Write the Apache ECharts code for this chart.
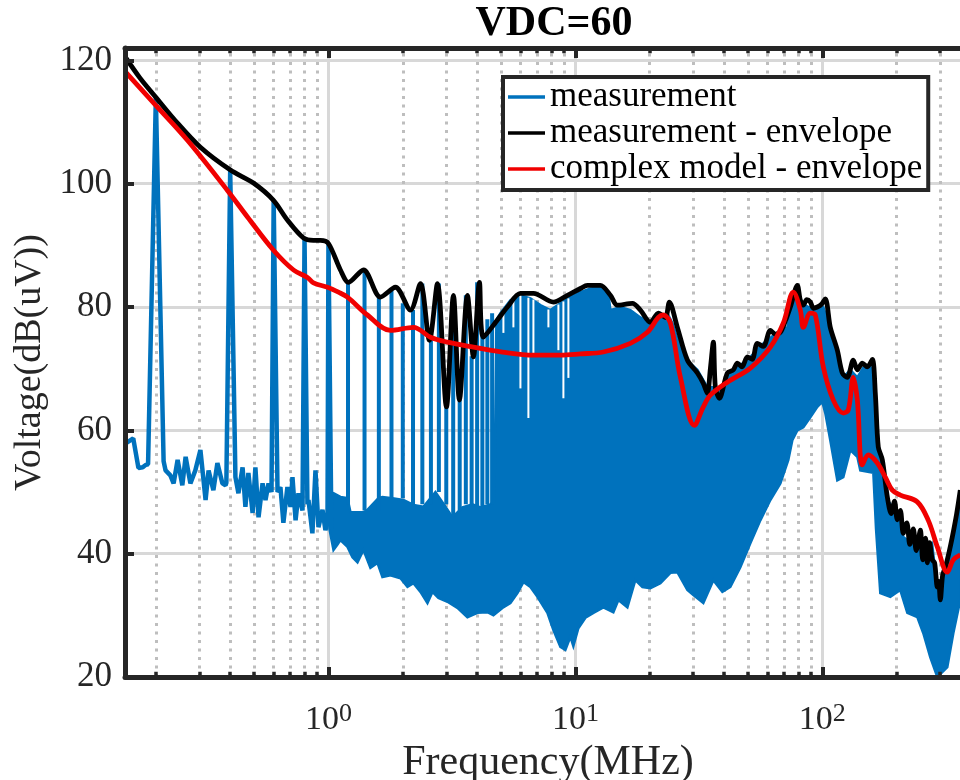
<!DOCTYPE html>
<html><head><meta charset="utf-8">
<script src="https://cdn.jsdelivr.net/npm/echarts@6/dist/echarts.min.js"></script>
<style>html,body{margin:0;padding:0;background:#fff}#chart{width:960px;height:780px}</style>
</head><body><div id="chart"></div>
<script>
// ---- data (frequency in MHz, level in dB(uV)) ----
const measLow = [[0.151,57.9],[0.162,58.7],[0.170,53.9],[0.177,54.0],[0.182,54.4],[0.186,54.5],[0.200,114.0],[0.215,55.0],[0.219,53.5],[0.229,52.7],[0.236,51.4],[0.245,55.2],[0.256,51.1],[0.264,55.7],[0.276,51.4],[0.289,53.5],[0.303,56.8],[0.318,48.7],[0.327,53.5],[0.342,50.3],[0.355,54.7],[0.372,51.4],[0.383,51.1],[0.386,51.5],[0.400,102.2],[0.420,52.4],[0.432,49.8],[0.449,54.0],[0.461,47.6],[0.474,53.1],[0.493,46.6],[0.506,54.0],[0.521,45.9],[0.541,51.4],[0.556,48.7],[0.572,51.4],[0.588,50.0],[0.600,97.3],[0.622,50.0],[0.639,50.8],[0.657,45.0],[0.682,50.8],[0.702,47.6],[0.715,52.4],[0.736,45.4],[0.756,49.8],[0.785,47.0],[0.800,91.2],[0.822,48.0],[0.830,48.7],[0.861,43.3],[0.886,53.5],[0.911,44.3],[0.946,47.1],[0.972,43.8],[0.991,45.0],[1.000,90.3],[1.028,44.0]];
const spikeFreq  = [1.2,1.4,1.6,1.8,2.0,2.2,2.4,2.6,2.8,3.0,3.2,3.4,3.6,3.8,4.0,4.2,4.4,4.6];
const spikePeak  = [84.0,86.0,81.6,82.7,80.6,79.5,83.8,75.0,83.8,64.0,81.9,65.0,81.9,72.0,84.0,75.5,78.0,79.0];
const spikeFloor = [48,47,47,49,49,48,48,48,50,48,46,47,48,48,47.5,47.5,48,48];
const dipFreq = [5.111,5.610,5.990,6.452,6.761,7.776,8.535,8.942,9.369];
const dipTop  = [79.5,81.3,81.9,81.5,81.2,79.6,80.4,80.9,81.4];
const dipLow  = [75.8,76.7,66.8,62.0,72.5,76.7,73.0,65.2,68.5];
const bandTop = [[1.009,50.0],[1.048,49.8],[1.118,49.2],[1.194,49.0],[1.228,46.7],[1.386,46.7],[1.438,47.1],[1.594,49.0],[1.654,49.2],[1.816,49.0],[2.012,48.7],[2.209,47.9],[2.425,47.6],[2.712,50.0],[2.977,47.6],[3.177,45.9],[3.487,47.5],[3.828,48.0],[4.125,47.5],[4.528,48.0],[4.700,48.5],[4.788,77.9],[4.970,79.0],[5.455,81.1],[5.990,81.9],[6.574,81.4],[7.216,80.3],[7.921,79.5],[8.695,80.6],[9.546,81.6],[10.48,82.4],[11.50,83.0],[12.98,83.2],[13.60,82.2],[13.86,79.5],[15.21,80.0],[16.70,79.5],[18.33,78.3],[20.12,77.5],[22.09,78.3],[23.58,79.0],[24.70,77.4],[27.37,71.9],[31.19,69.8],[34.22,67.0],[35.86,67.0],[38.64,66.5],[43.62,69.8],[49.71,71.4],[57.69,74.1],[65.74,75.9],[72.16,76.7],[76.31,81.1],[79.21,82.7],[82.99,80.6],[87.76,80.0],[95.45,79.5],[100.9,80.0],[107.7,76.7],[115.0,71.9],[121.6,68.6],[129.8,69.8],[138.6,68.6],[146.6,70.2],[156.5,70.6],[160.9,67.0],[167.0,60.5],[171.7,54.0],[183.3,48.7],[201.2,46.6],[212.8,42.7],[233.6,41.4],[249.4,43.0],[266.1,39.4],[278.8,41.4],[292.2,34.1],[300.5,32.5],[314.8,37.3],[336.0,42.2],[362.1,49.8]];
const bandBottom = [[1.009,44.0],[1.048,40.6],[1.088,41.5],[1.118,42.2],[1.194,41.1],[1.251,39.4],[1.311,38.6],[1.386,40.6],[1.479,37.7],[1.579,38.5],[1.654,36.2],[1.782,36.5],[1.957,36.0],[2.089,34.6],[2.209,35.2],[2.358,33.8],[2.517,32.0],[2.637,33.8],[2.788,32.8],[3.033,32.2],[3.328,31.2],[3.654,29.7],[4.011,30.4],[4.403,30.5],[4.656,30.0],[5.063,31.2],[5.455,32.0],[5.825,33.6],[6.160,35.4],[6.574,34.6],[7.018,33.0],[7.703,30.4],[8.145,27.6],[8.695,24.9],[9.110,24.4],[9.546,26.5],[9.81,25.0],[10.28,27.9],[10.98,29.6],[11.83,30.4],[12.98,31.3],[14.25,30.5],[14.93,32.5],[16.24,31.3],[17.49,35.7],[18.68,34.6],[20.12,34.4],[22.09,35.2],[24.25,36.9],[25.88,37.0],[28.41,34.1],[30.04,33.3],[32.97,32.0],[36.20,35.7],[39.37,33.8],[42.41,34.6],[46.56,37.8],[51.11,41.7],[56.10,45.4],[61.59,48.7],[67.61,51.4],[72.83,55.2],[75.60,58.4],[79.21,60.0],[83.77,60.5],[89.42,62.1],[95.45,63.8],[100.0,64.6],[102.8,62.8],[107.7,58.4],[115.0,51.9],[121.6,52.4],[129.8,56.8],[138.6,55.7],[142.5,53.5],[160.9,53.1],[165.0,44.0],[171.7,33.6],[188.5,33.0],[206.9,34.1],[220.9,30.4],[242.4,29.7],[256.4,27.1],[273.7,23.2],[292.2,20.0],[320.7,21.6],[339.2,27.1],[362.1,32.5]];
const measEnvelope = [[0.15,120.6],[0.172,117.2],[0.200,114.0],[0.240,110.2],[0.303,105.9],[0.401,102.2],[0.497,100.1],[0.599,97.3],[0.682,94.1],[0.792,91.2],[0.869,90.8],[0.928,90.8],[1.000,90.3],[1.118,86.0],[1.205,84.0],[1.386,86.0],[1.624,81.6],[1.867,83.2],[2.148,79.5],[2.358,83.8],[2.564,74.6],[2.763,83.8],[3.005,63.8],[3.207,81.9],[3.391,64.9],[3.654,81.9],[3.864,71.9],[4.087,84.0],[4.242,75.1],[4.832,77.9],[5.305,80.0],[5.990,82.2],[6.761,82.2],[8.145,80.8],[9.281,81.9],[10.48,83.0],[11.18,83.5],[12.62,83.5],[13.86,81.9],[14.79,80.3],[17.01,80.6],[18.33,79.5],[20.12,77.5],[21.68,79.0],[23.14,78.3],[24.02,80.8],[25.88,76.7],[28.41,71.4],[31.19,69.3],[32.97,67.6],[34.22,66.0],[35.20,70.0],[36.20,74.3],[36.88,67.0],[38.28,65.2],[41.25,69.3],[43.6,69.8],[45.27,70.9],[47.3,70.3],[49.71,71.9],[52.0,71.5],[54.55,74.1],[57.7,73.6],[61.59,76.2],[64.5,75.6],[67.61,75.9],[70.5,77.5],[74.20,80.0],[79.21,83.5],[81.45,81.1],[83.77,80.3],[86.5,81.2],[89.42,80.8],[92.0,79.8],[95.45,80.0],[99.0,80.4],[102.8,81.3],[107.7,76.7],[115.0,73.0],[120.5,69.3],[126.2,68.6],[133.5,71.4],[138.6,69.8],[145.2,70.9],[152.1,70.3],[159.4,71.5],[163.9,66.0],[168.5,57.3],[175.0,55.2],[183.3,49.2],[190,46.5],[196,48.5],[201.2,45.5],[207,47.0],[212.8,43.3],[220,45.0],[226,41.5],[233.6,44.0],[240,40.5],[249.4,43.8],[255,39.0],[262,42.5],[266.1,38.5],[272,41.8],[278.8,39.0],[285,38.5],[292.2,34.6],[296,35.5],[300.5,32.5],[307,36.5],[314.8,37.8],[325,40.0],[336,42.7],[350,46.5],[362,50.3]];
const modelEnvelope = [[0.15,118.2],[0.200,112.7],[0.269,107.0],[0.390,98.9],[0.470,94.6],[0.599,89.2],[0.722,86.0],[0.822,84.8],[0.870,83.9],[0.991,83.2],[1.098,82.4],[1.194,81.6],[1.438,78.7],[1.782,76.2],[2.209,76.7],[2.588,75.1],[3.033,74.3],[3.864,73.5],[5.063,72.7],[6.761,72.2],[8.695,72.2],[10.48,72.4],[12.98,72.7],[16.70,74.1],[19.56,75.9],[21.68,78.3],[22.72,78.7],[24.25,77.4],[26.62,68.6],[30.33,60.8],[32.97,63.8],[35.20,65.7],[41.25,67.8],[51.11,70.1],[61.59,73.5],[69.52,77.4],[76.31,82.4],[81.45,79.5],[83.77,76.7],[89.42,79.0],[93.69,78.7],[100.9,70.3],[110.8,64.9],[121.6,62.8],[127.4,63.3],[133.5,68.6],[138.6,64.9],[145.2,54.4],[153.6,56.0],[167.0,54.7],[179.9,52.4],[192.0,50.3],[206.9,49.5],[242.4,48.4],[268.6,45.4],[292.2,41.1],[320.7,37.0],[339.2,39.0],[362.1,39.8]];
const minorFreq = [0.2,0.3,0.4,0.5,0.6,0.7,0.8,0.9,2,3,4,5,6,7,8,9,20,30,40,50,60,70,80,90,200,300];
const yTicks = [20,40,60,80,100,120];

const FONT = 'Liberation Serif';
const AX = '#262626';
const BLUE = '#0072BD';
const RED = '#f00000';
const LW = 4.8;
const AXW = 5;
const chart = echarts.init(document.getElementById('chart'), null, {renderer:'canvas'});

const tickSegs = [];
minorFreq.forEach(f => {
  tickSegs.push([{coord:[f,20]},{coord:[f,20.85]}]);
  tickSegs.push([{coord:[f,122]},{coord:[f,121.15]}]);
});

function logLabel(v){
  const e = Math.log10(v), r = Math.round(e);
  if (Math.abs(e - r) > 1e-6) return '';
  return '{b|10}{s|' + r + '}';
}

function vSegment(color, width){
  return function(params, api){
    const p1 = api.coord([api.value(0), api.value(2)]);
    const p2 = api.coord([api.value(0), api.value(1)]);
    return {type:'line', shape:{x1:p1[0], y1:p1[1], x2:p2[0], y2:p2[1]},
            style:{stroke:color, lineWidth:width}};
  };
}

chart.setOption({
  animation:false,
  backgroundColor:'#fff',
  title:{text:'VDC=60', left:549, top:-2, textAlign:'center', z:10,
    textStyle:{fontFamily:FONT, fontWeight:'bold', fontSize:42, color:'#000'}},
  legend:{data:[{name:'measurement', icon:'rect'},{name:'measurement - envelope', icon:'rect'},{name:'complex model - envelope', icon:'rect'}],
    orient:'vertical', left:503, top:77, itemWidth:37, itemHeight:3.5, itemGap:0, z:20,
    padding:[2,6,3,5], backgroundColor:'#fff', borderColor:AX, borderWidth:4, borderRadius:0,
    selectedMode:false,
    textStyle:{fontFamily:FONT, fontSize:35, color:'#000', lineHeight:36}},
  grid:{left:125, top:48, width:846, height:629, containLabel:false, outerBoundsMode:'none'},
  xAxis:[
    {type:'log', logBase:10, min:0.15, max:400, position:'bottom', z:5,
     axisLine:{show:true, onZero:false, lineStyle:{color:AX, width:AXW}},
     axisTick:{show:true, inside:true, length:10, lineStyle:{color:AX, width:4}},
     minorTick:{show:false}, splitLine:{show:false}, minorSplitLine:{show:false},
     axisLabel:{margin:24, formatter:logLabel, color:AX,
       rich:{b:{fontFamily:FONT, fontSize:34, lineHeight:38, color:AX},
             s:{fontFamily:FONT, fontSize:26, lineHeight:26, verticalAlign:'top', color:AX}}},
     name:'Frequency(MHz)', nameLocation:'middle', nameGap:65,
     nameTextStyle:{fontFamily:FONT, fontSize:42, color:AX}},
    {type:'log', logBase:10, min:0.15, max:400, position:'top', z:0,
     axisLine:{show:true, onZero:false, lineStyle:{color:AX, width:AXW}},
     axisTick:{show:true, inside:true, length:10, lineStyle:{color:AX, width:4}},
     axisLabel:{show:false}, minorTick:{show:false},
     splitLine:{show:true, lineStyle:{color:'#d8d8d8', width:3}}}
  ],
  yAxis:[
    {type:'value', min:20, max:122, interval:20, position:'left', z:5,
     axisLine:{show:true, onZero:false, lineStyle:{color:AX, width:AXW}},
     axisTick:{show:true, inside:true, length:9, lineStyle:{color:AX, width:4}},
     axisLabel:{margin:13, fontFamily:FONT, fontSize:35, color:AX,
       formatter:v => yTicks.indexOf(v) >= 0 ? String(v) : ''},
     splitLine:{show:false},
     name:'Voltage(dB(uV))', nameLocation:'middle', nameGap:72,
     nameTextStyle:{fontFamily:FONT, fontSize:38, color:AX}},
    {type:'value', min:20, max:122, interval:20, position:'right', z:0,
     axisLine:{show:false}, axisTick:{show:false}, axisLabel:{show:false},
     splitLine:{show:true, lineStyle:{color:'#d8d8d8', width:3}}}
  ],
  series:[
    {type:'line', name:'_minorgrid', data:[], z:1, silent:true, xAxisIndex:0, yAxisIndex:0,
     markLine:{silent:true, z:1, symbol:['none','none'], animation:false, label:{show:false},
       lineStyle:{color:'#bebebe', width:3, type:[3,5.5]},
       emphasis:{disabled:true},
       data:minorFreq.map(f => ({xAxis:f}))}},
    {type:'custom', name:'_band', coordinateSystem:'cartesian2d', xAxisIndex:0, yAxisIndex:0,
     z:2, silent:true, clip:true, data:[bandTop[0]],
     renderItem:function(params, api){
       const pts = [];
       for (let i = 0; i < bandTop.length; i++) pts.push(api.coord(bandTop[i]));
       for (let i = bandBottom.length - 1; i >= 0; i--) pts.push(api.coord(bandBottom[i]));
       return {type:'polygon', shape:{points:pts}, style:{fill:BLUE, stroke:BLUE, lineWidth:2.5}};
     }},
    {type:'custom', name:'_dips', coordinateSystem:'cartesian2d', xAxisIndex:0, yAxisIndex:0,
     z:2, silent:true, clip:true,
     data:dipFreq.map((f,i) => [f, dipTop[i], dipLow[i]]),
     encode:{x:0, y:1}, renderItem:vSegment('#ffffff', 2)},
    {type:'custom', name:'_spikes', coordinateSystem:'cartesian2d', xAxisIndex:0, yAxisIndex:0,
     z:2, silent:true, clip:true,
     data:spikeFreq.map((f,i) => [f, spikePeak[i], spikeFloor[i]]),
     encode:{x:0, y:1}, renderItem:vSegment(BLUE, 4)},
    {type:'line', name:'measurement', data:measLow, z:2, showSymbol:false, symbol:'none',
     lineStyle:{color:BLUE, width:4.5}, itemStyle:{color:BLUE}, smooth:false},
    {type:'line', name:'measurement - envelope', data:measEnvelope, z:3, showSymbol:false, symbol:'none',
     lineStyle:{color:'#000', width:LW}, itemStyle:{color:'#000'}, smooth:0.3},
    {type:'line', name:'complex model - envelope', data:modelEnvelope, z:4, showSymbol:false, symbol:'none',
     lineStyle:{color:RED, width:LW}, itemStyle:{color:RED}, smooth:0.35},
    {type:'line', name:'_minorticks', data:[], z:6, silent:true,
     markLine:{silent:true, z:6, symbol:['none','none'], animation:false, label:{show:false},
       lineStyle:{color:AX, width:3.5, type:'solid'}, emphasis:{disabled:true},
       data:tickSegs}}
  ]
});
</script></body></html>
